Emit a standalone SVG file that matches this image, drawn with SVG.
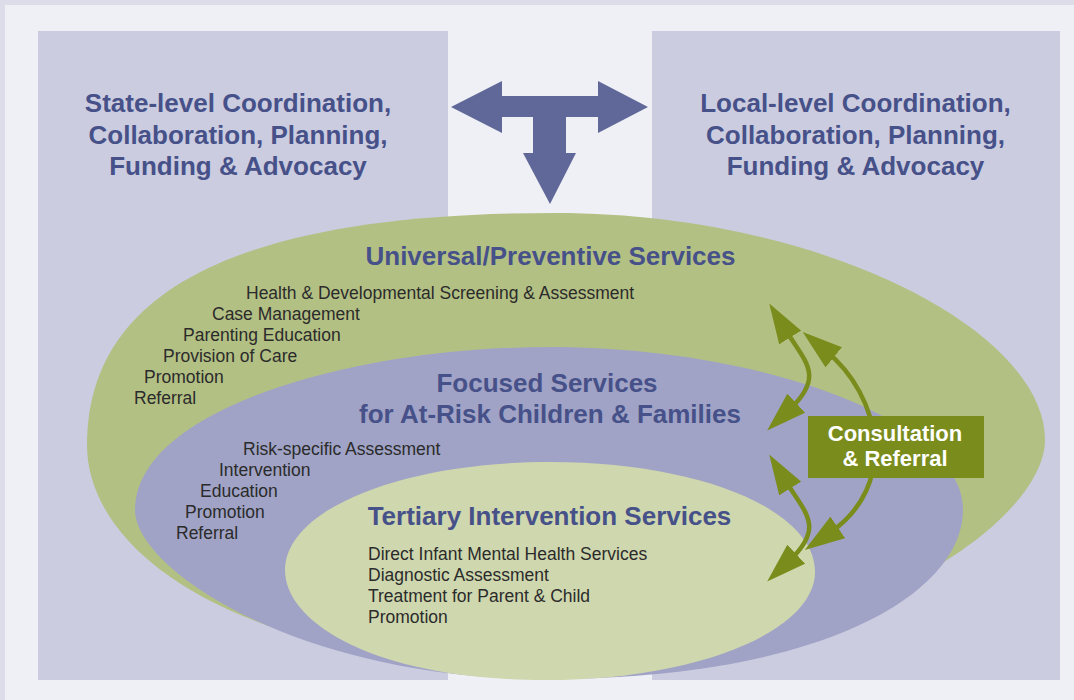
<svg xmlns="http://www.w3.org/2000/svg" width="1074" height="700" viewBox="0 0 1074 700">
  <style>
    .panel { fill: #cbcce0; }
    .head { font-family: "Liberation Sans", Arial, sans-serif; font-weight: bold; font-size: 26px; fill: #475189; text-anchor: middle; }
    .item { font-family: "Liberation Sans", Arial, sans-serif; font-size: 17.5px; fill: #2b2b2b; }
    .box-text { font-family: "Liberation Sans", Arial, sans-serif; font-weight: bold; font-size: 22px; fill: #ffffff; text-anchor: middle; }
    .link { fill: none; stroke: #7a8c1c; stroke-width: 4.5; marker-start: url(#ah); marker-end: url(#ah); }
  </style>
  <defs>
    <marker id="ah" viewBox="0 0 40 26" refX="10" refY="13" markerWidth="40" markerHeight="26" markerUnits="userSpaceOnUse" orient="auto-start-reverse">
      <path d="M0,0 L40,13 L0,26 z" fill="#7a8c1c"/>
    </marker>
  </defs>

  <g id="background">
    <rect x="0" y="0" width="1074" height="700" fill="#dcdde9"/>
    <rect x="5" y="5" width="1069" height="695" fill="#eff0f5"/>
  </g>

  <g id="state-level">
    <rect class="panel" x="38" y="31" width="410" height="649"/>
    <text class="head" x="238" y="112">State-level Coordination,</text>
    <text class="head" x="238" y="143.5">Collaboration, Planning,</text>
    <text class="head" x="238" y="175">Funding &amp; Advocacy</text>
  </g>

  <g id="local-level">
    <rect class="panel" x="652" y="31" width="408" height="649"/>
    <text class="head" x="855.5" y="112">Local-level Coordination,</text>
    <text class="head" x="855.5" y="143.5">Collaboration, Planning,</text>
    <text class="head" x="855.5" y="175">Funding &amp; Advocacy</text>
  </g>

  <g id="t-arrow">
    <polygon fill="#5f6898" points="451,107 502,81 502,96 598,96 598,81 648,107 598,133 598,117 566,117 566,153 576,153 550,204 523,153 533,153 533,117 502,117 502,133"/>
  </g>

  <g id="universal">
    <path fill="#b3c084" d="M555,213 C260,213 87,280 87,445 C87,550 230,665 560,672 C900,640 1045,510 1045,440 C1045,330 820,213 555,213 Z"/>
    <text class="head" x="550.5" y="265">Universal/Preventive Services</text>
    <text class="item" x="246" y="299">Health &amp; Developmental Screening &amp; Assessment</text>
    <text class="item" x="212" y="320">Case Management</text>
    <text class="item" x="183" y="341">Parenting Education</text>
    <text class="item" x="163" y="362">Provision of Care</text>
    <text class="item" x="144" y="383">Promotion</text>
    <text class="item" x="134" y="404">Referral</text>
  </g>

  <g id="focused">
    <path fill="#a0a3c5" d="M550,347 C350,347 135,410 135,510 C135,570 300,679 545,679 C830,679 963,590 963,510 C963,420 760,347 550,347 Z"/>
    <text class="head" x="547" y="392">Focused Services</text>
    <text class="head" x="550" y="423">for At-Risk Children &amp; Families</text>
    <text class="item" x="243" y="455">Risk-specific Assessment</text>
    <text class="item" x="219" y="476">Intervention</text>
    <text class="item" x="200" y="497">Education</text>
    <text class="item" x="185" y="518">Promotion</text>
    <text class="item" x="176" y="539">Referral</text>
  </g>

  <g id="tertiary">
    <path fill="#cfd7ae" d="M550,462 C400,462 285,510 285,570 C285,625 380,680 545,680 C700,680 815,630 815,572 C815,510 700,462 550,462 Z"/>
    <text class="head" x="549.5" y="525">Tertiary Intervention Services</text>
    <text class="item" x="368" y="560">Direct Infant Mental Health Services</text>
    <text class="item" x="368" y="581">Diagnostic Assessment</text>
    <text class="item" x="368" y="602">Treatment for Parent &amp; Child</text>
    <text class="item" x="368" y="623">Promotion</text>
  </g>

  <g id="connectors">
    <path class="link" d="M785,329 C806,363 825,376 789,410"/>
    <path class="link" d="M785,480 C806,514 825,527 789,561"/>
    <path class="link" d="M826,351 C880,395 900,485 829.5,533"/>
  </g>

  <g id="consultation-referral">
    <rect x="808" y="416" width="176" height="62" fill="#7a8c1c"/>
    <text class="box-text"><tspan x="895" y="441">Consultation</tspan><tspan x="895" y="466">&amp; Referral</tspan></text>
  </g>
</svg>
